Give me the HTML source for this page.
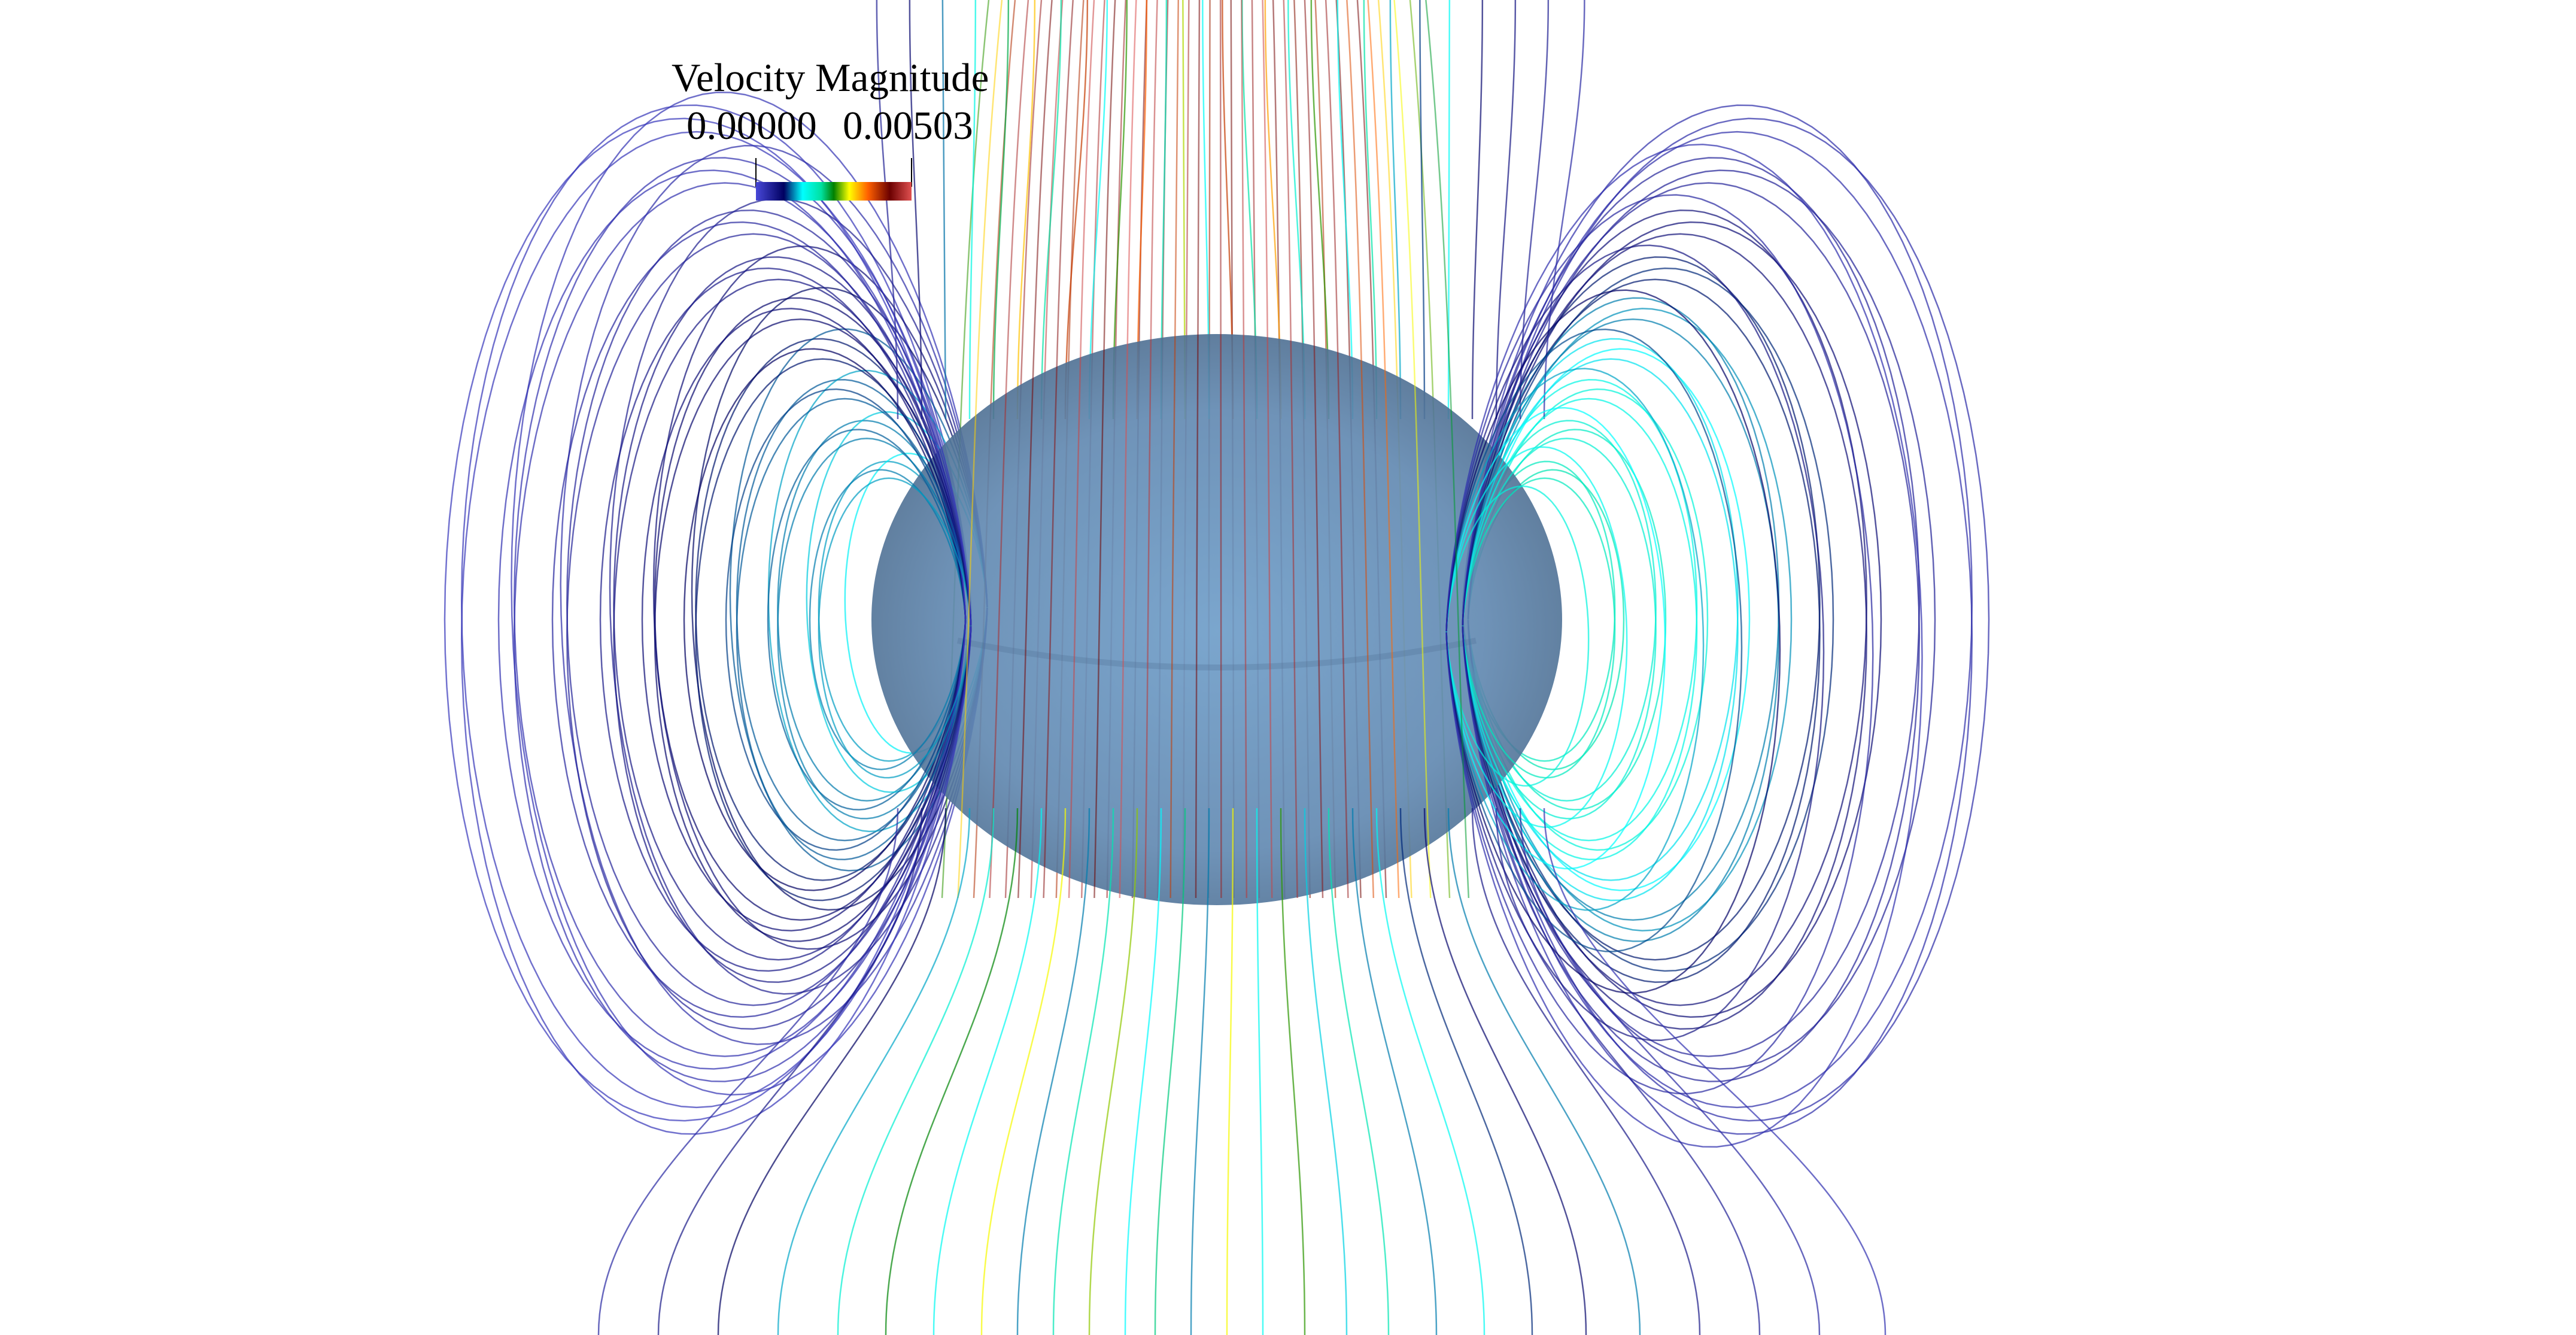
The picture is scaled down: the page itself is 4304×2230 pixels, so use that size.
<!DOCTYPE html>
<html><head><meta charset="utf-8"><style>
html,body{margin:0;padding:0;background:#fff;}
#wrap{position:relative;width:4304px;height:2230px;overflow:hidden;background:#fff;}
svg{position:absolute;left:0;top:0;}
.t{position:absolute;font-family:"Liberation Serif",serif;color:#000;white-space:nowrap;}
</style></head><body>
<div id="wrap">
<svg id="sv" width="4304" height="2230" viewBox="0 0 4304 2230">
<defs>
<radialGradient id="bodyG" cx="0.5" cy="0.52" r="0.55">
<stop offset="0" stop-color="#6c9cc8"/><stop offset="0.7" stop-color="#5f87b0"/><stop offset="1" stop-color="#4a6a8c"/>
</radialGradient>
<linearGradient id="cbar" x1="0" x2="1" y1="0" y2="0">
<stop offset="0" stop-color="#4848d8"/><stop offset="0.18" stop-color="#000060"/><stop offset="0.3" stop-color="#00ffff"/>
<stop offset="0.42" stop-color="#00e0a0"/><stop offset="0.5" stop-color="#008000"/><stop offset="0.6" stop-color="#ffff00"/>
<stop offset="0.72" stop-color="#ff6000"/><stop offset="0.86" stop-color="#6b0000"/><stop offset="1" stop-color="#e05050"/>
</linearGradient>
</defs>
<g id="back"></g>
<ellipse cx="2033" cy="1035" rx="577" ry="477" fill="url(#bodyG)" opacity="0.9"/>
<path d="M1600 1070 Q2033 1160 2466 1070" fill="none" stroke="#4f7296" stroke-width="10" opacity="0.3"/>
<g id="front"></g>
<line x1="1263" y1="264" x2="1263" y2="312" stroke="#000" stroke-width="2"/>
<line x1="1523" y1="264" x2="1523" y2="312" stroke="#000" stroke-width="2"/>
<rect x="1263" y="304" width="260" height="31" fill="url(#cbar)"/>
</svg>
<div class="t" style="left:1122px;top:92px;font-size:67px;">Velocity Magnitude</div>
<div class="t" style="left:1147px;top:172px;font-size:67px;">0.00000</div>
<div class="t" style="left:1408px;top:172px;font-size:67px;">0.00503</div>
</div>
<script>
// streamline data
const loopL = [260, 330, 400, 470, 540, 610, 690, 780, 870];
const loopPhi = [0, 12, 24, -12, 180, 168, 192, 204];
const loopMag = [0.0016, 0.0015, 0.0014, 0.0012, 0.0010, 0.0008, 0.0006, 0.0004, 0.0003];
const vertX = [1600,1625,1650,1675,1700,1720,1740,1760,1780,1800,1820,1840,1860,1880,1900,1920,1940,1960,1980,2000,2020,2040,2060,2080,2100,2120,2140,2160,2180,2200,2220,2240,2260,2280,2300,2320,2340,2370,2400,2430];
const vertMag = [0.0026,0.0032,0.0040,0.0047,0.0046,0.0044,0.0048,0.0045,0.0040,0.0049,0.0047,0.0043,0.0046,0.0050,0.0044,0.0048,0.0045,0.0039,0.0047,0.0044,0.0041,0.0046,0.0043,0.0048,0.0046,0.0049,0.0044,0.0047,0.0042,0.0045,0.0040,0.0046,0.0043,0.0038,0.0044,0.0036,0.0032,0.0030,0.0027,0.0024];
const fanTopX = [1500,1540,1580,1620,1660,1700,1740,1780,1820,1860,1900,1940,1980,2020,2060,2100,2140,2180,2220,2260,2300,2340,2380,2420,2460,2500,2540,2580];
const fanBotX = [1000,1100,1200,1300,1400,1480,1560,1640,1700,1760,1820,1880,1930,1990,2050,2110,2180,2250,2320,2400,2480,2560,2650,2740,2840,2940,3040,3150];
const fanMag = [0.0004,0.0006,0.0009,0.0013,0.0018,0.0025,0.0016,0.0030,0.0012,0.0020,0.0028,0.0015,0.0022,0.0012,0.0030,0.0016,0.0026,0.0014,0.0020,0.0012,0.0016,0.0010,0.0008,0.0012,0.0006,0.0005,0.0004,0.0003];
const vmax = 0.00503;
const cx = 2033, cy = 1035, r0 = 420, vscale = 2.5, tilt = 0.12;
const cmapStops = [[0,[72,72,216]],[0.18,[0,0,96]],[0.3,[0,255,255]],[0.42,[0,224,160]],[0.5,[0,128,0]],[0.6,[255,255,0]],[0.72,[255,96,0]],[0.86,[107,0,0]],[1,[224,80,80]]];
function cmap(v){
  let t=Math.max(0,Math.min(1,v/vmax));
  for(let i=1;i<cmapStops.length;i++){
    if(t<=cmapStops[i][0]){const a=cmapStops[i-1],b=cmapStops[i];const f=(t-a[0])/(b[0]-a[0]);
      const c=a[1].map((x,k)=>Math.round(x+(b[1][k]-x)*f));return `rgb(${c[0]},${c[1]},${c[2]})`;}
  }
  return 'rgb(224,80,80)';
}
const NS='http://www.w3.org/2000/svg';
const back=document.getElementById('back'), front=document.getElementById('front');
function addPath(g,d,col,name,op){
  const p=document.createElementNS(NS,'path');
  p.setAttribute('d',d);p.setAttribute('fill','none');p.setAttribute('stroke',col);
  p.setAttribute('stroke-width','2.5');p.setAttribute('opacity',op||'0.7');
  
  
  g.appendChild(p);
}
function loopPath(L,phi){
  let d='';
  for(let k=0;k<=120;k++){
    const th=0.02+(Math.PI-0.04)*k/120;
    const s=Math.sin(th), rho=r0+L*s*s*s, z=L*s*s*Math.cos(th)*vscale;
    const X=cx+rho*Math.cos(phi), Y=cy-z+tilt*rho*Math.sin(phi);
    d+=(k?'L':'M')+X.toFixed(1)+' '+Y.toFixed(1);
  }
  return d;
}
loopPhi.forEach((ph)=>{
  const phi=ph*Math.PI/180;
  loopL.forEach((L,li)=>{
    addPath(Math.sin(phi)>0?front:back,loopPath(L,phi),cmap(loopMag[li]*(1+0.25*Math.cos(phi*3))),'streamline-loop');
  });
});
vertX.forEach((x,i)=>{
  const b=(x-cx)*0.12;
  const d=`M${x-b} 0 C${x} 500 ${x} 1000 ${x+b*0.5} 1500`;
  addPath(i%2?front:back,d,cmap(vertMag[i]),'streamline-axial','0.55');
});
fanTopX.forEach((x,i)=>{
  const xb=fanBotX[i];
  addPath(front,`M${x} 1350 C${x} 1700 ${xb} 1900 ${xb} 2230`,cmap(fanMag[i]),'streamline-fan-lower');
  const xt=cx+(xb-cx)*0.55;
  addPath(back,`M${x} 700 C${x} 450 ${xt} 250 ${xt} 0`,cmap(fanMag[i]*1.3),'streamline-fan-upper');
});
</script>
</body></html>
